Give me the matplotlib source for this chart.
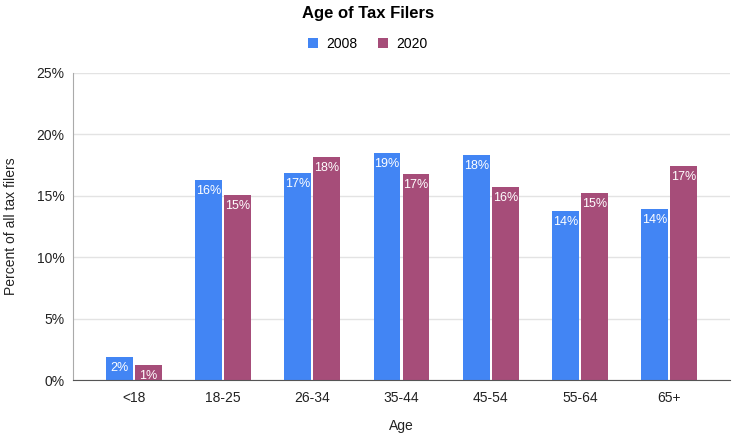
import matplotlib
matplotlib.use("Agg")
import matplotlib.pyplot as plt
import numpy as np

categories = ["<18", "18-25", "26-34", "35-44", "45-54", "55-64", "65+"]
series_names = ["2008", "2020"]
values_2008 = [1.87, 16.26, 16.88, 18.51, 18.3, 13.76, 13.9]
values_2020 = [1.25, 15.09, 18.18, 16.8, 15.69, 15.2, 17.43]
y_ticks = [0, 5, 10, 15, 20, 25]

plt.rcParams['font.family'] = ['Liberation Sans', 'DejaVu Sans']

fig = plt.figure(figsize=(7.36, 4.37), dpi=100)
ax = fig.add_axes([0.0992, 0.1304, 0.8926, 0.7026])

colors = ["#4285F4", "#A64D79"]
x = np.arange(len(categories))
w = 0.3
off = 0.1625
for vals, c, d, name in [(values_2008, colors[0], -off, series_names[0]),
                         (values_2020, colors[1], off, series_names[1])]:
    bars = ax.bar(x + d, vals, width=w, color=c, label=name, zorder=3)
    for b, v in zip(bars, vals):
        ax.annotate(f"{round(v):d}%", (b.get_x() + b.get_width() / 2, v),
                    xytext=(0, -3.5), textcoords="offset points",
                    ha="center", va="top", color="white", fontsize=9, zorder=4)

ax.set_xlim(-0.68, 6.68)
ax.set_ylim(0, 25)
ax.set_yticks(y_ticks)
ax.set_yticklabels([f"{t}%" for t in y_ticks])
ax.set_xticks(x)
ax.set_xticklabels(categories)
ax.tick_params(axis="both", length=0, labelsize=10, colors="#222222", pad=8)
ax.tick_params(axis="y", pad=6)
ax.grid(axis="y", color="#e3e3e3", linewidth=1, zorder=0)
for s in ["top", "right"]:
    ax.spines[s].set_visible(False)
ax.spines["left"].set_color("#aaaaaa")
ax.spines["bottom"].set_color("#555555")
ax.spines["bottom"].set_zorder(5)

ax.set_xlabel("Age", fontsize=10, color="#222222")
ax.xaxis.set_label_coords(0.5, -0.128)
ax.set_ylabel("Percent of all tax filers", fontsize=10, color="#222222")
ax.yaxis.set_label_coords(-0.083, 0.5)

fig.text(0.5, 0.968, "Age of Tax Filers", ha="center", va="center",
         fontsize=12, fontweight="bold", color="#000000")
leg = fig.legend(loc="center", bbox_to_anchor=(0.5, 0.899), ncol=2, frameon=False,
                 fontsize=10, handlelength=0.7, handleheight=0.7, columnspacing=1.5,
                 handletextpad=0.6)
fig.savefig("out.png", dpi=100)
